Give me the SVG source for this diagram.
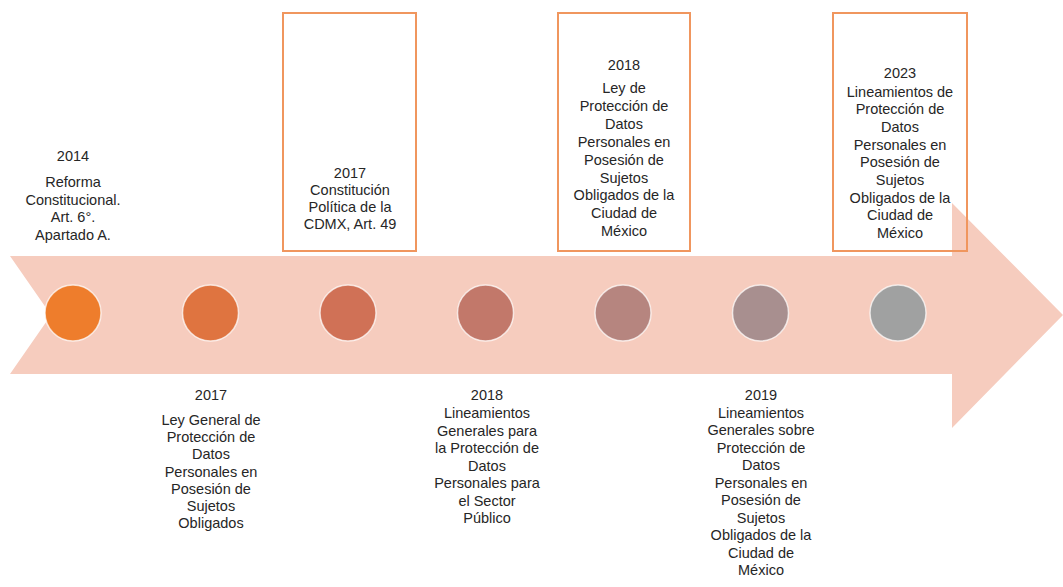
<svg xmlns="http://www.w3.org/2000/svg" width="1063" height="587" viewBox="0 0 1063 587">
<style>
.t{font-family:"Liberation Sans",Arial,sans-serif;font-size:14.5px;fill:#262626;text-anchor:middle}
.box{fill:none;stroke:#F0965E;stroke-width:2}
.dot{stroke:#FFFFFF;stroke-width:1.5;stroke-opacity:0.7}
</style>
<rect width="1063" height="587" fill="#FFFFFF"/>
<g id="connectors">
<polygon id="arrow" points="10,256 952,256 952,203 1063,315 952,428 952,374 10,374 51,315" fill="#F6CCBE"/>
</g>
<g id="n2014">
<circle class="dot" cx="73" cy="313" r="28" fill="#EE7D2C"/>
<text class="t" x="73" y="161">2014</text>
<text class="t" x="73" y="187">Reforma</text>
<text class="t" x="73" y="204.5">Constitucional.</text>
<text class="t" x="73" y="222">Art. 6°.</text>
<text class="t" x="73" y="239.5">Apartado A.</text>
</g>
<g id="n2017a">
<circle class="dot" cx="210.5" cy="313" r="28" fill="#DF7440"/>
<text class="t" x="211" y="400">2017</text>
<text class="t" x="211" y="425">Ley General de</text>
<text class="t" x="211" y="442.2">Protección de</text>
<text class="t" x="211" y="459.4">Datos</text>
<text class="t" x="211" y="476.6">Personales en</text>
<text class="t" x="211" y="493.8">Posesión de</text>
<text class="t" x="211" y="511">Sujetos</text>
<text class="t" x="211" y="528.2">Obligados</text>
</g>
<g id="n2017b">
<circle class="dot" cx="348" cy="313" r="28" fill="#D07156"/>
<rect class="box" x="283" y="13" width="133" height="238"/>
<text class="t" x="350" y="178">2017</text>
<text class="t" x="350" y="195">Constitución</text>
<text class="t" x="350" y="212">Política de la</text>
<text class="t" x="350" y="229">CDMX, Art. 49</text>
</g>
<g id="n2018a">
<circle class="dot" cx="485.5" cy="313" r="28" fill="#C2786A"/>
<text class="t" x="487" y="400">2018</text>
<text class="t" x="487" y="418">Lineamientos</text>
<text class="t" x="487" y="435.5">Generales para</text>
<text class="t" x="487" y="453">la Protección de</text>
<text class="t" x="487" y="470.5">Datos</text>
<text class="t" x="487" y="488">Personales para</text>
<text class="t" x="487" y="505.5">el Sector</text>
<text class="t" x="487" y="523">Público</text>
</g>
<g id="n2018b">
<circle class="dot" cx="623" cy="313" r="28" fill="#B6857F"/>
<rect class="box" x="558" y="13" width="132" height="238"/>
<text class="t" x="624" y="70">2018</text>
<text class="t" x="624" y="93">Ley de</text>
<text class="t" x="624" y="110.9">Protección de</text>
<text class="t" x="624" y="128.8">Datos</text>
<text class="t" x="624" y="146.7">Personales en</text>
<text class="t" x="624" y="164.6">Posesión de</text>
<text class="t" x="624" y="182.5">Sujetos</text>
<text class="t" x="624" y="200.4">Obligados de la</text>
<text class="t" x="624" y="218.3">Ciudad de</text>
<text class="t" x="624" y="236.2">México</text>
</g>
<g id="n2019">
<circle class="dot" cx="760.5" cy="313" r="28" fill="#A88F8F"/>
<text class="t" x="761" y="400">2019</text>
<text class="t" x="761" y="417.5">Lineamientos</text>
<text class="t" x="761" y="435">Generales sobre</text>
<text class="t" x="761" y="452.5">Protección de</text>
<text class="t" x="761" y="470">Datos</text>
<text class="t" x="761" y="487.5">Personales en</text>
<text class="t" x="761" y="505">Posesión de</text>
<text class="t" x="761" y="522.5">Sujetos</text>
<text class="t" x="761" y="540">Obligados de la</text>
<text class="t" x="761" y="557.5">Ciudad de</text>
<text class="t" x="761" y="575">México</text>
</g>
<g id="n2023">
<circle class="dot" cx="898" cy="313" r="28" fill="#A0A1A1"/>
<rect class="box" x="833" y="13" width="134" height="238"/>
<text class="t" x="900" y="78">2023</text>
<text class="t" x="900" y="96.5">Lineamientos de</text>
<text class="t" x="900" y="114.2">Protección de</text>
<text class="t" x="900" y="131.9">Datos</text>
<text class="t" x="900" y="149.6">Personales en</text>
<text class="t" x="900" y="167.3">Posesión de</text>
<text class="t" x="900" y="185">Sujetos</text>
<text class="t" x="900" y="202.7">Obligados de la</text>
<text class="t" x="900" y="220.4">Ciudad de</text>
<text class="t" x="900" y="238.1">México</text>
</g>
</svg>
